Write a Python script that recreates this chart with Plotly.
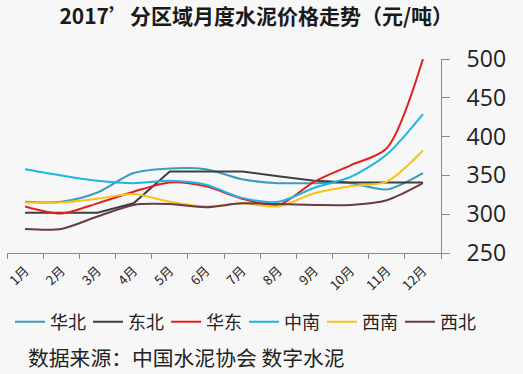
import plotly.graph_objects as go

months = ["1月", "2月", "3月", "4月", "5月", "6月", "7月", "8月", "9月", "10月", "11月", "12月"]
series_names = ["华北", "东北", "华东", "中南", "西南", "西北"]
huabei = [316, 316, 328, 353, 359, 358, 345, 340, 340, 340, 332, 353]
dongbei = [302, 302, 302, 314, 355, 355, 355, 349, 343, 341, 341, 341]
huadong = [310, 301, 314, 329, 341, 336, 320, 312, 342, 363, 385, 500]
zhongnan = [358, 350, 343, 340, 343, 338, 321, 316, 334, 348, 377, 429]
xinan = [315, 315, 320, 326, 316, 310, 314, 310, 327, 336, 342, 382]
xibei = [281, 281, 297, 312, 313, 309, 314, 313, 312, 312, 318, 340]
y_ticks = [250, 300, 350, 400, 450, 500]

values = [huabei, dongbei, huadong, zhongnan, xinan, xibei]
colors = ["#3A9DBB", "#3F3F3F", "#E0201E", "#1FB4E3", "#F9C21A", "#6A3A48"]
shapes = ["spline", "linear", "spline", "spline", "spline", "spline"]
legend_ids = ["legend", "legend", "legend", "legend2", "legend2", "legend2"]

fig = go.Figure()
for name, vals, c, sh, lg in zip(series_names, values, colors, shapes, legend_ids):
    fig.add_trace(go.Scatter(x=months, y=vals, name=name, mode="lines", legend=lg,
                             line=dict(color=c, width=2, shape=sh, smoothing=0.8)))

legend_style = dict(orientation="h", xref="container", xanchor="left",
                    yref="container", y=(374 - 322) / 374, yanchor="middle",
                    font=dict(size=18, color="#222222"), bgcolor="rgba(0,0,0,0)",
                    entrywidth=33, entrywidthmode="pixels", itemwidth=30, tracegroupgap=0)

fig.update_layout(
    width=523, height=374,
    margin=dict(l=7, r=82, t=59, b=121, autoexpand=False),
    paper_bgcolor="#F7F7F7", plot_bgcolor="#F7F7F7",
    font=dict(family="Noto Sans CJK SC", color="#222222"),
    title=dict(text="<b>2017’分区域月度水泥价格走势（元/吨）</b>", x=0.49, xanchor="center",
               y=0.955, yanchor="middle", font=dict(size=21, color="#1a1a1a")),
    showlegend=True,
    legend=dict(x=10 / 523, **legend_style),
    legend2=dict(x=(10 + 3 * 78) / 523, **legend_style),
    annotations=[dict(text="数据来源：中国水泥协会 数字水泥", xref="paper", yref="paper",
                      x=(26 - 7) / 434, xanchor="left", y=(253 - 357) / 194, yanchor="middle",
                      showarrow=False, font=dict(size=20.8, color="#222222"))],
)
fig.update_xaxes(type="category", range=[-0.5, 11.5], showgrid=False, showline=True,
                 linecolor="#8a8a8a", linewidth=1, ticks="outside", ticklen=5, tickcolor="#8a8a8a",
                 tickson="boundaries", tickangle=-45, tickfont=dict(size=13, color="#222"),
                 ticklabelstandoff=4, automargin=False)
fig.update_yaxes(range=[250, 500], side="right", tickvals=y_ticks, showgrid=False, showline=True,
                 linecolor="#8a8a8a", linewidth=1, ticks="outside", ticklen=8, tickcolor="#8a8a8a",
                 tickfont=dict(size=23, family="Open Sans", color="#222"), ticklabelstandoff=12,
                 zeroline=False, automargin=False)

fig.write_html("out.html", config={"displayModeBar": False},
               post_script="document.body.style.margin='0px';")
